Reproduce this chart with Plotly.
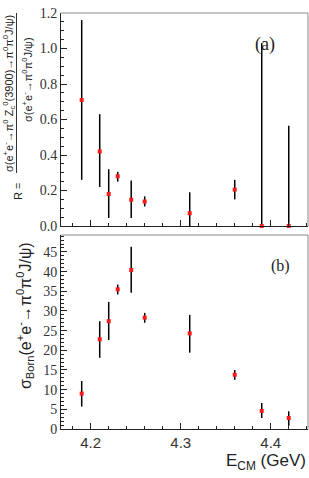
import plotly.graph_objects as go
from plotly.subplots import make_subplots

energy = [4.190, 4.210, 4.220, 4.230, 4.245, 4.260, 4.310, 4.360, 4.390, 4.420]

ratio = [0.71, 0.42, 0.18, 0.28, 0.148, 0.138, 0.072, 0.205, 0.0, 0.0]
ratio_hi = [1.16, 0.63, 0.32, 0.305, 0.256, 0.167, 0.19, 0.26, 1.03, 0.565]
ratio_lo = [0.26, 0.22, 0.045, 0.25, 0.045, 0.11, 0.0, 0.15, 0.0, 0.0]

xsec = [9.0, 22.8, 27.4, 35.5, 40.4, 28.3, 24.3, 13.8, 4.6, 2.8]
xsec_hi = [12.2, 27.4, 32.3, 36.7, 46.3, 29.5, 29.0, 15.0, 6.6, 4.5]
xsec_lo = [5.7, 18.1, 22.6, 34.2, 34.6, 27.0, 19.4, 12.5, 2.8, 0.8]

x_ticks = [4.2, 4.3, 4.4]
x_ticklabels = ["4.2", "4.3", "4.4"]

W, H = 309, 478
L, R, T, B = 61, 1, 13, 49
pw = W - L - R
ph = H - T - B
ya_bottom_px = 226
yb_top_px = 235

def px2x(p):
    return (p - L) / pw

def px2y(q):
    return (H - B - q) / ph

fig = make_subplots(rows=2, cols=1, shared_xaxes=True)

def add_series(y, hi, lo, row):
    fig.add_trace(go.Scatter(
        x=energy, y=y, mode="markers",
        marker=dict(symbol="square", size=4, color="#ff1a1a"),
        error_y=dict(type="data", symmetric=False,
                     array=[h - v for h, v in zip(hi, y)],
                     arrayminus=[v - l for v, l in zip(y, lo)],
                     color="black", thickness=1.5, width=0),
        showlegend=False, cliponaxis=False), row=row, col=1)

add_series(ratio, ratio_hi, ratio_lo, 1)
add_series(xsec, xsec_hi, xsec_lo, 2)

xr = [4.167, 4.4414]
serif = "Liberation Serif"
sans = "Liberation Sans"

common_x = dict(range=xr, showgrid=False, zeroline=False, showline=True,
                linecolor="#222", linewidth=1, ticks="inside", ticklen=6,
                tickcolor="#222", tickvals=x_ticks,
                minor=dict(dtick=0.02, tick0=4.2, ticks="inside", ticklen=3, tickcolor="#222"))

fig.update_layout(
    width=W, height=H,
    margin=dict(l=L, r=R, t=T, b=B),
    plot_bgcolor="white", paper_bgcolor="white",
    xaxis=dict(common_x, domain=[0, 1], showticklabels=False),
    xaxis2=dict(common_x, domain=[0, 1], ticktext=x_ticklabels,
                tickfont=dict(family=sans, size=15, color="#333")),
    yaxis=dict(domain=[px2y(ya_bottom_px), 1], range=[0, 1.2], dtick=0.2,
               tickformat=".1f", showgrid=False, zeroline=False, showline=True,
               linecolor="#222", ticks="inside", ticklen=6, tickcolor="#222",
               minor=dict(dtick=0.05, ticks="inside", ticklen=3, tickcolor="#222"),
               tickfont=dict(family=serif, size=14, color="#333")),
    yaxis2=dict(domain=[0, px2y(yb_top_px)], range=[0, 49.3], dtick=5,
                showgrid=False, zeroline=False, showline=True,
                linecolor="#222", ticks="inside", ticklen=6, tickcolor="#222",
                minor=dict(dtick=1, ticks="inside", ticklen=3, tickcolor="#222"),
                tickfont=dict(family=serif, size=14, color="#333")),
)

# grey top/right frame
for yref in ["y domain", "y2 domain"]:
    fig.add_shape(type="line", xref="x domain", yref=yref, x0=0, x1=1, y0=1, y1=1,
                  line=dict(color="#8a8a8a", width=1))
    fig.add_shape(type="line", xref="x domain", yref=yref, x0=1, x1=1, y0=0, y1=1,
                  line=dict(color="#8a8a8a", width=1))

def a(text, xp, yp, size, family=sans, angle=0, xanchor="center"):
    return dict(text=text, x=px2x(xp), y=px2y(yp), xref="paper", yref="paper",
                xanchor=xanchor, yanchor="middle", textangle=angle, showarrow=False,
                font=dict(family=family, size=size, color="#222"))

ann = [
    a("(a)", 265, 45, 18, serif),
    a("(b)", 280, 266, 16, serif),
    a("E<sub>CM</sub> (GeV)", 308, 462, 17, sans, xanchor="right"),
    a("σ<sub>Born</sub>(e<sup>+</sup>e<sup>-</sup>→π<sup>0</sup>π<sup>0</sup>J/ψ)", 25, 316, 16, sans, -90),
    a("σ(e<sup>+</sup>e<sup>-</sup>→π<sup>0</sup> Z<sub>c</sub><sup>0</sup>(3900)→π<sup>0</sup>π<sup>0</sup>J/ψ)", 9, 94, 11, sans, -90),
    a("σ(e<sup>+</sup>e<sup>-</sup>→π<sup>0</sup>π<sup>0</sup>J/ψ)", 27, 80, 11, sans, -90),
    a("R =", 18, 192, 11, sans, -90),
]
fig.update_layout(annotations=ann)
fig.add_shape(type="line", xref="paper", yref="paper", x0=px2x(16.5), x1=px2x(16.5),
              y0=px2y(13), y1=px2y(173), line=dict(color="#333", width=1))

fig.write_html("out.html")
